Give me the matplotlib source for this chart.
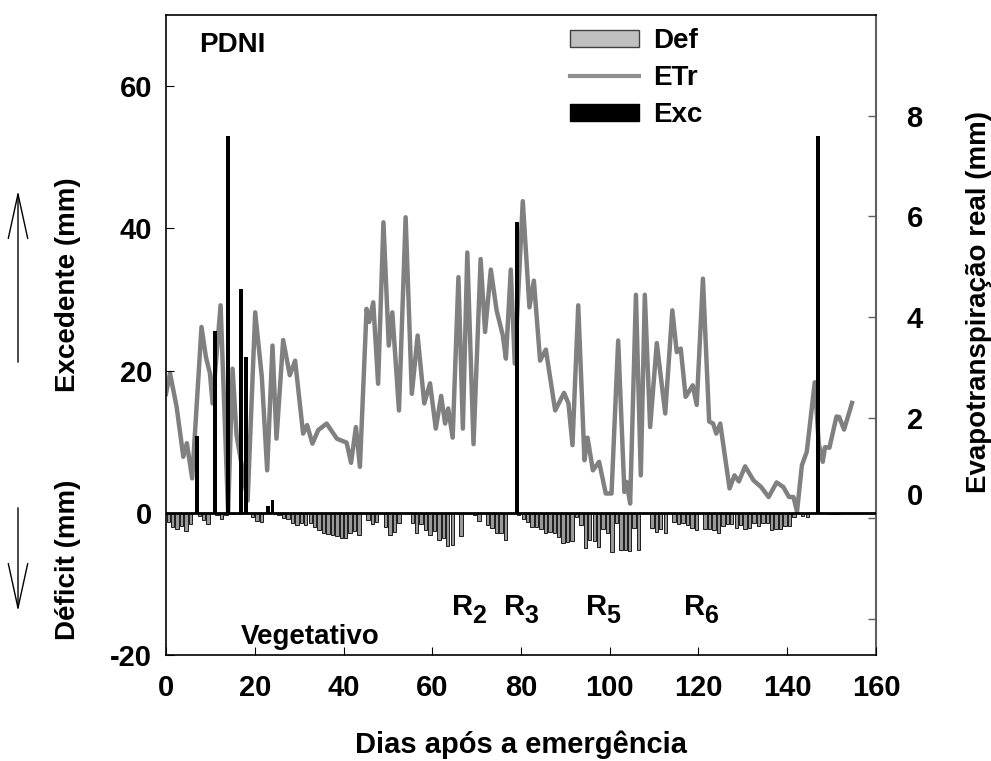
import numpy as np
import matplotlib
matplotlib.use('Agg')
import matplotlib.pyplot as plt
from matplotlib.patches import Patch
from matplotlib.lines import Line2D

plt.rcParams['font.family'] = ['Liberation Sans', 'DejaVu Sans']
plt.rcParams['font.weight'] = 'bold'
plt.rcParams['axes.labelweight'] = 'bold'
plt.rcParams['axes.unicode_minus'] = False

# excess (mm), black bars
exc_days = [7, 11, 14, 17, 18, 23, 24, 79, 147]
exc_vals = [10.8, 25.6, 53.0, 31.5, 21.9, 1.0, 1.8, 40.9, 53.0]

# daily deficit (mm), drawn downward
def_vals = [1.26, 1.97, 2.34, 1.87, 2.58, 1.59, 0, 0.42, 1.03, 1.59,
            0, 0.37, 0.94, 0.25, 0.15, 0.2, 0.2, 0, 0, 0.66,
            1.17, 1.31, 0, 0, 0, 0.37, 0.70, 0.89, 1.50, 1.78,
            1.41, 1.73, 1.50, 1.97, 2.44, 2.81, 3.04, 3.14, 3.28, 3.51,
            3.61, 2.90, 2.53, 3.14, 0, 1.03, 1.59, 1.36, 0, 2.06,
            3.19, 2.76, 1.50, 0, 0, 1.50, 2.81, 1.64, 2.44, 3.14,
            2.58, 3.84, 3.51, 4.68, 4.54, 0, 3.28, 0, 0, 0.37,
            1.12, 0, 1.73, 2.20, 2.90, 2.90, 3.80, 0, 0, 0.33,
            0.94, 1.26, 1.97, 1.97, 2.34, 2.90, 2.67, 2.81, 3.47, 4.22,
            4.07, 3.93, 0.56, 1.73, 5.01, 3.84, 3.93, 4.78, 2.34, 2.90,
            5.48, 1.50, 5.25, 5.25, 5.39, 2.20, 5.25, 0, 0, 2.20,
            2.76, 2.34, 2.90, 0, 1.26, 1.59, 1.50, 1.73, 2.20, 2.44,
            0, 2.34, 2.34, 2.44, 2.90, 1.87, 1.64, 1.64, 2.20, 1.73,
            2.34, 2.20, 1.50, 1.87, 1.50, 1.50, 2.44, 2.34, 2.34, 1.87,
            1.87, 0.56, 0, 0.42, 0.66, 0, 0, 0, 0, 0.2,
            0.2, 0.2]
def_days = np.arange(len(def_vals))

# real evapotranspiration (mm), right axis
etr_days = [0.0, 0.9, 2.4, 3.9, 4.7, 5.9, 8.0, 9.0, 9.9, 10.5,
            12.3, 14.0, 15.0, 15.9, 18.4, 20.1, 21.6, 22.8, 24.0, 24.9,
            26.4, 27.9, 29.1, 30.9, 31.8, 33.0, 34.3, 36.2, 38.5, 40.7,
            41.7, 42.8, 43.7, 45.2, 45.8, 46.7, 47.8, 49.0, 50.2, 51.0,
            52.5, 54.0, 55.4, 56.7, 58.2, 59.5, 60.8, 62.0, 62.9, 63.6,
            64.6, 65.9, 66.9, 67.9, 69.3, 70.9, 71.9, 73.2, 74.5, 75.9,
            76.6, 77.7, 78.6, 80.4, 81.9, 82.9, 84.3, 85.6, 87.7, 89.7,
            90.7, 91.6, 92.9, 94.3, 95.0, 96.2, 97.6, 99.1, 100.4, 101.9,
            103.3, 103.8, 104.6, 105.9, 107.0, 107.9, 109.1, 110.6, 112.5, 114.1,
            115.1, 116.0, 117.1, 118.7, 119.6, 121.0, 122.4, 123.3, 124.0, 124.9,
            127.0, 128.1, 129.1, 130.5, 132.4, 134.1, 135.8, 137.6, 139.1, 140.4,
            141.4, 142.2, 143.3, 144.4, 146.2, 147.1, 148.0, 148.5, 149.5, 151.1,
            151.7, 152.8, 154.6]
etr_vals = [2.47, 2.88, 2.21, 1.22, 1.49, 0.79, 3.80, 3.20, 2.88, 2.28,
            4.23, 0.10, 2.97, 1.65, 0.35, 4.09, 2.80, 0.95, 3.43, 1.58,
            3.54, 2.84, 3.13, 1.68, 1.85, 1.48, 1.75, 1.88, 1.58, 1.50,
            1.10, 1.81, 1.02, 4.16, 3.90, 4.29, 2.67, 5.88, 3.43, 4.09,
            2.14, 5.98, 2.47, 3.63, 2.28, 2.68, 1.78, 2.43, 1.88, 2.18,
            1.60, 4.79, 1.78, 5.28, 1.47, 5.15, 3.70, 4.94, 4.13, 3.63,
            3.17, 4.94, 3.07, 6.30, 4.19, 4.72, 3.13, 3.35, 2.14, 2.49,
            2.28, 1.45, 4.23, 1.15, 1.60, 0.95, 1.12, 0.49, 0.49, 3.53,
            0.52, 0.72, 0.29, 4.44, 0.85, 4.44, 1.81, 3.48, 2.08, 4.13,
            3.30, 3.37, 2.41, 2.64, 2.25, 4.76, 1.92, 1.88, 1.68, 1.88,
            0.59, 0.85, 0.73, 1.03, 0.75, 0.62, 0.42, 0.71, 0.62, 0.42,
            0.42, 0.13, 1.05, 1.32, 2.70, 1.48, 1.12, 1.41, 1.40, 2.02,
            2.01, 1.76, 2.29]

stage_subs = ['2', '3', '5', '6']
stage_days = [66.8, 78.5, 97.0, 119.1]

fig = plt.figure(figsize=(9.91, 7.61), dpi=100)
ax = fig.add_axes([166 / 991, 1 - 655 / 761, 710 / 991, 640 / 761])
ax2 = ax.twinx()

# ETr line under the bars
ax2.plot(etr_days, etr_vals, color='#808080', lw=3.2, solid_joinstyle='round')
ax2.set_ylim(-2.72, 10)
ax2.set_yticks([-2, 0, 2, 4, 6, 8])
ax2.set_yticklabels(['', '', '2', '4', '6', '8'])
ax2.tick_params(axis='y', direction='in', length=6, width=1, pad=22,
                labelsize=21, color='#606060')
for s in ['left', 'top', 'bottom']:
    ax2.spines[s].set_visible(False)
ax2.spines['right'].set_color('#606060')
ax2.spines['right'].set_linewidth(1.5)
ax2.annotate('0', xy=(1, 0.42), xycoords=('axes fraction', 'data'),
             xytext=(22, 0), textcoords='offset points',
             ha='left', va='center', fontsize=21)
fig.text(979 / 991, 1 - 302 / 761, 'Evapotranspiração real (mm)', rotation=90,
         fontsize=20, ha='center', va='center')

ax.set_zorder(ax2.get_zorder() + 1)
ax.patch.set_visible(False)

ax.bar(def_days + 0.5, -np.array(def_vals), width=0.75,
       color='#999999', edgecolor='black', linewidth=0.6)
ax.bar(exc_days, exc_vals, width=0.9, color='black')
ax.axhline(0, color='black', lw=2)

ax.set_xlim(0, 160)
ax.set_ylim(-20, 70)
ax.set_xticks(range(0, 161, 20))
ax.set_yticks([-20, 0, 20, 40, 60])
ax.tick_params(axis='x', direction='in', length=6, pad=14, labelsize=21)
ax.tick_params(axis='y', direction='in', length=6, pad=10, labelsize=21)
ax.spines['right'].set_visible(False)
for s in ['left', 'top', 'bottom']:
    ax.spines[s].set_linewidth(1.2)
ax.set_xlabel('Dias após a emergência', fontsize=21, labelpad=20)

ax.text(14.9, 65.8, 'PDNI', fontsize=20, ha='center', va='center')
for sub, d in zip(stage_subs, stage_days):
    ax.text(d, -13.2, 'R', fontsize=21, ha='center', va='center')
    ax.annotate(sub, xy=(d, -13.2), xytext=(12, -7), textcoords='offset points',
                fontsize=18, ha='center', va='center')
ax.text(32.5, -17.4, 'Vegetativo', fontsize=20, ha='center', va='center')

# left axis labels with direction arrows
fig.text(68 / 991, 1 - 285 / 761, 'Excedente (mm)', rotation=90,
         fontsize=20, ha='center', va='center')
fig.text(68 / 991, 1 - 560 / 761, 'Déficit (mm)', rotation=90,
         fontsize=20, ha='center', va='center')
arrow = dict(arrowstyle='->,head_length=3.2,head_width=0.7', lw=1, color='black')
ax.annotate('', xy=(18 / 991, 1 - 188 / 761), xytext=(18 / 991, 1 - 365 / 761),
            xycoords='figure fraction', textcoords='figure fraction', arrowprops=arrow)
ax.annotate('', xy=(18 / 991, 1 - 614 / 761), xytext=(18 / 991, 1 - 505 / 761),
            xycoords='figure fraction', textcoords='figure fraction', arrowprops=arrow)

handles = [Patch(facecolor='#c0c0c0', edgecolor='#404040', linewidth=1),
           Line2D([0], [0], color='#909090', lw=3),
           Patch(facecolor='black', edgecolor='black')]
fig.legend(handles, ['Def', 'ETr', 'Exc'], loc='upper left',
           bbox_to_anchor=(570 / 991, 1 - 28 / 761), frameon=False,
           fontsize=20, handlelength=2.5, handleheight=0.55,
           handletextpad=0.5, labelspacing=0.4, borderpad=0, borderaxespad=0)

fig.savefig('out.png', dpi=100)
